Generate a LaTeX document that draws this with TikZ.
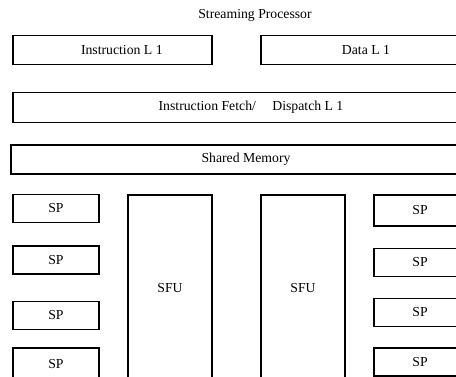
\documentclass[tikz,border=0pt]{standalone}
\usepackage{fontspec}
\setmainfont{Liberation Serif}
\begin{document}
\begin{tikzpicture}[x=0.75pt,y=-0.75pt]
        \tikzstyle{unit_style} = [draw=black,line width=1.2pt,rectangle,inner sep=0pt,font=\fontsize{10.3}{12}\selectfont]
        \tikzstyle{bar_style} = [unit_style,minimum height=21.75pt]
        \tikzstyle{sp_style} = [unit_style,minimum height=21pt]
        \tikzstyle{sfu_style} = [unit_style,minimum width=63pt,minimum height=140pt]
        \clip (0,0) rectangle (456,377);
        \node[font=\fontsize{10.3}{12}\selectfont] (title) at (255,15) {Streaming Processor};
        % caches
        \node[bar_style,minimum width=149.25pt,label={[xshift=7pt,font=\fontsize{10.3}{12}\selectfont]center:Instruction L 1}] (il1) at (112.5,50) {};
        \node[bar_style,minimum width=157.5pt] (dl1) at (366,50) {Data L 1};
        \node[bar_style,minimum width=357pt,minimum height=22.5pt] (fetch) at (251,107.5) {Instruction Fetch/\hspace{1.2em}Dispatch L 1};
        \node[bar_style,minimum width=352.5pt] (shmem) at (246,159.5) {Shared Memory};
        % left SPs
        \node[sp_style,minimum width=64.5pt] (spl1) at (56,208.5) {SP};
        \node[sp_style,minimum width=64.5pt] (spl2) at (56,260) {SP};
        \node[sp_style,minimum width=64.5pt] (spl3) at (56,315.5) {SP};
        \node[sp_style,minimum width=64.5pt,minimum height=24pt] (spl4) at (56,364) {SP};
        % special function units
        \node[sfu_style] (sfu1) at (170,288.5) {SFU};
        \node[sfu_style] (sfu2) at (303,288.5) {SFU};
        % right SPs
        \node[sp_style,minimum width=69pt,minimum height=23pt] (spr1) at (420,210.5) {SP};
        \node[sp_style,minimum width=69pt] (spr2) at (420,262.5) {SP};
        \node[sp_style,minimum width=69pt] (spr3) at (420,312.5) {SP};
        \node[sp_style,minimum width=69pt] (spr4) at (420,362) {SP};
\end{tikzpicture}
\end{document}
